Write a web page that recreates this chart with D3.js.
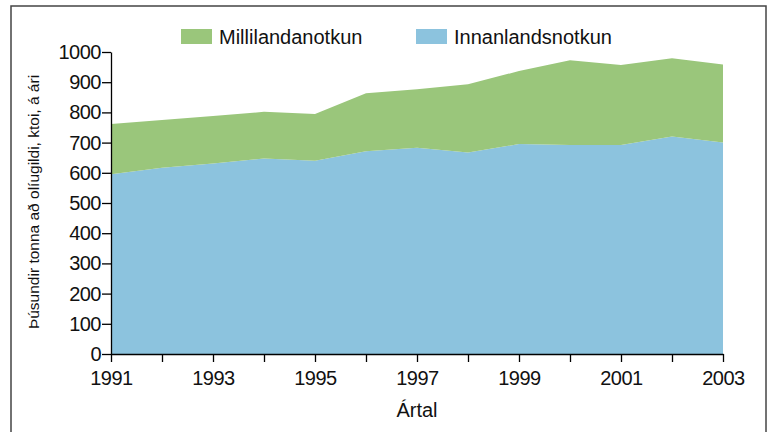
<!DOCTYPE html>
<html>
<head>
<meta charset="utf-8">
<script src="https://cdn.jsdelivr.net/npm/d3@7"></script>
<style>
  body { margin: 0; background: #fff; }
  text { font-family: "Liberation Sans", Arial, sans-serif; }
</style>
</head>
<body>
<svg id="chart" width="771" height="432"></svg>
<script>
// data
const years = [1991, 1992, 1993, 1994, 1995, 1996, 1997, 1998, 1999, 2000, 2001, 2002, 2003];
const innanlands = [595, 617, 631, 647, 640, 671, 683, 667, 695, 692, 692, 720, 700];
const millilanda = [167, 158, 157, 155, 155, 192, 194, 226, 242, 281, 265, 259, 259];
const yTicks = [0, 100, 200, 300, 400, 500, 600, 700, 800, 900, 1000];
const xTickLabels = [1991, 1993, 1995, 1997, 1999, 2001, 2003];
const seriesNames = ['Innanlandsnotkun', 'Millilandanotkun'];
const colors = {Innanlandsnotkun: '#8cc3de', Millilandanotkun: '#9ac67b'};

const svg = d3.select('#chart');
const margin = {left: 111, right: 48, top: 52, bottom: 78};
const width = 771, height = 432;

// frame around the whole figure
svg.append('rect')
   .attr('x', 11)
   .attr('y', 6)
   .attr('width', 755)
   .attr('height', 440)
   .attr('fill', 'none')
   .attr('stroke', '#444')
   .attr('stroke-width', 1.5);

let x = d3.scaleLinear()
          .domain([1991, 2003])
          .range([margin.left, width - margin.right]);
let y = d3.scaleLinear()
          .domain([0, 1000])
          .range([height - margin.bottom, margin.top]);

let rows = years.map((yr, i) => ({year: yr, Innanlandsnotkun: innanlands[i], Millilandanotkun: millilanda[i]}));
let stacked = d3.stack().keys(seriesNames)(rows);

let area = d3.area()
             .x(d => x(d.data.year))
             .y0(d => y(d[0]))
             .y1(d => y(d[1]));

svg.selectAll('.layer')
   .data(stacked)
   .enter()
   .append('path')
   .attr('class', 'layer')
   .attr('d', area)
   .attr('fill', d => colors[d.key]);

// y axis
let yAxis = svg.append('g')
   .attr('transform', `translate(${margin.left},0)`)
   .call(d3.axisLeft(y).tickValues(yTicks).tickSize(9).tickPadding(1).tickSizeOuter(0)
           .tickFormat(d3.format('d')));
yAxis.selectAll('text')
   .attr('font-size', '20px')
   .attr('fill', '#111')
   .attr('letter-spacing', '-0.5px')
   .style('font-family', '"Liberation Sans", Arial, sans-serif');
yAxis.selectAll('line, path').attr('stroke', '#000').attr('stroke-width', 1.3);

// x axis
let xAxis = svg.append('g')
   .attr('transform', `translate(0,${height - margin.bottom})`)
   .call(d3.axisBottom(x).tickValues(years).tickSize(8).tickPadding(9).tickSizeOuter(0)
           .tickFormat(d => xTickLabels.includes(d) ? String(d) : ''));
xAxis.selectAll('text')
   .attr('font-size', '20px')
   .attr('fill', '#111')
   .attr('letter-spacing', '-0.5px')
   .style('font-family', '"Liberation Sans", Arial, sans-serif');
xAxis.selectAll('line, path').attr('stroke', '#000').attr('stroke-width', 1.3);

// axis titles
svg.append('text')
   .attr('x', x(1997))
   .attr('y', 417)
   .attr('text-anchor', 'middle')
   .attr('font-size', '20px')
   .attr('fill', '#111')
   .text('Ártal');

svg.append('text')
   .attr('transform', `translate(39,${y(500) - 1}) rotate(-90)`)
   .attr('text-anchor', 'middle')
   .attr('font-size', '15.5px')
   .attr('fill', '#111')
   .text('Þúsundir tonna að olíugildi, ktoi, á ári');

// legend
let legend = [
  {name: 'Millilandanotkun', x: 181},
  {name: 'Innanlandsnotkun', x: 416}
];
legend.forEach(l => {
  svg.append('rect')
     .attr('x', l.x)
     .attr('y', 29)
     .attr('width', 31)
     .attr('height', 15)
     .attr('fill', colors[l.name]);
  svg.append('text')
     .attr('x', l.x + 38)
     .attr('y', 44)
     .attr('font-size', '20px')
     .attr('fill', '#111')
     .text(l.name);
});
</script>
</body>
</html>
